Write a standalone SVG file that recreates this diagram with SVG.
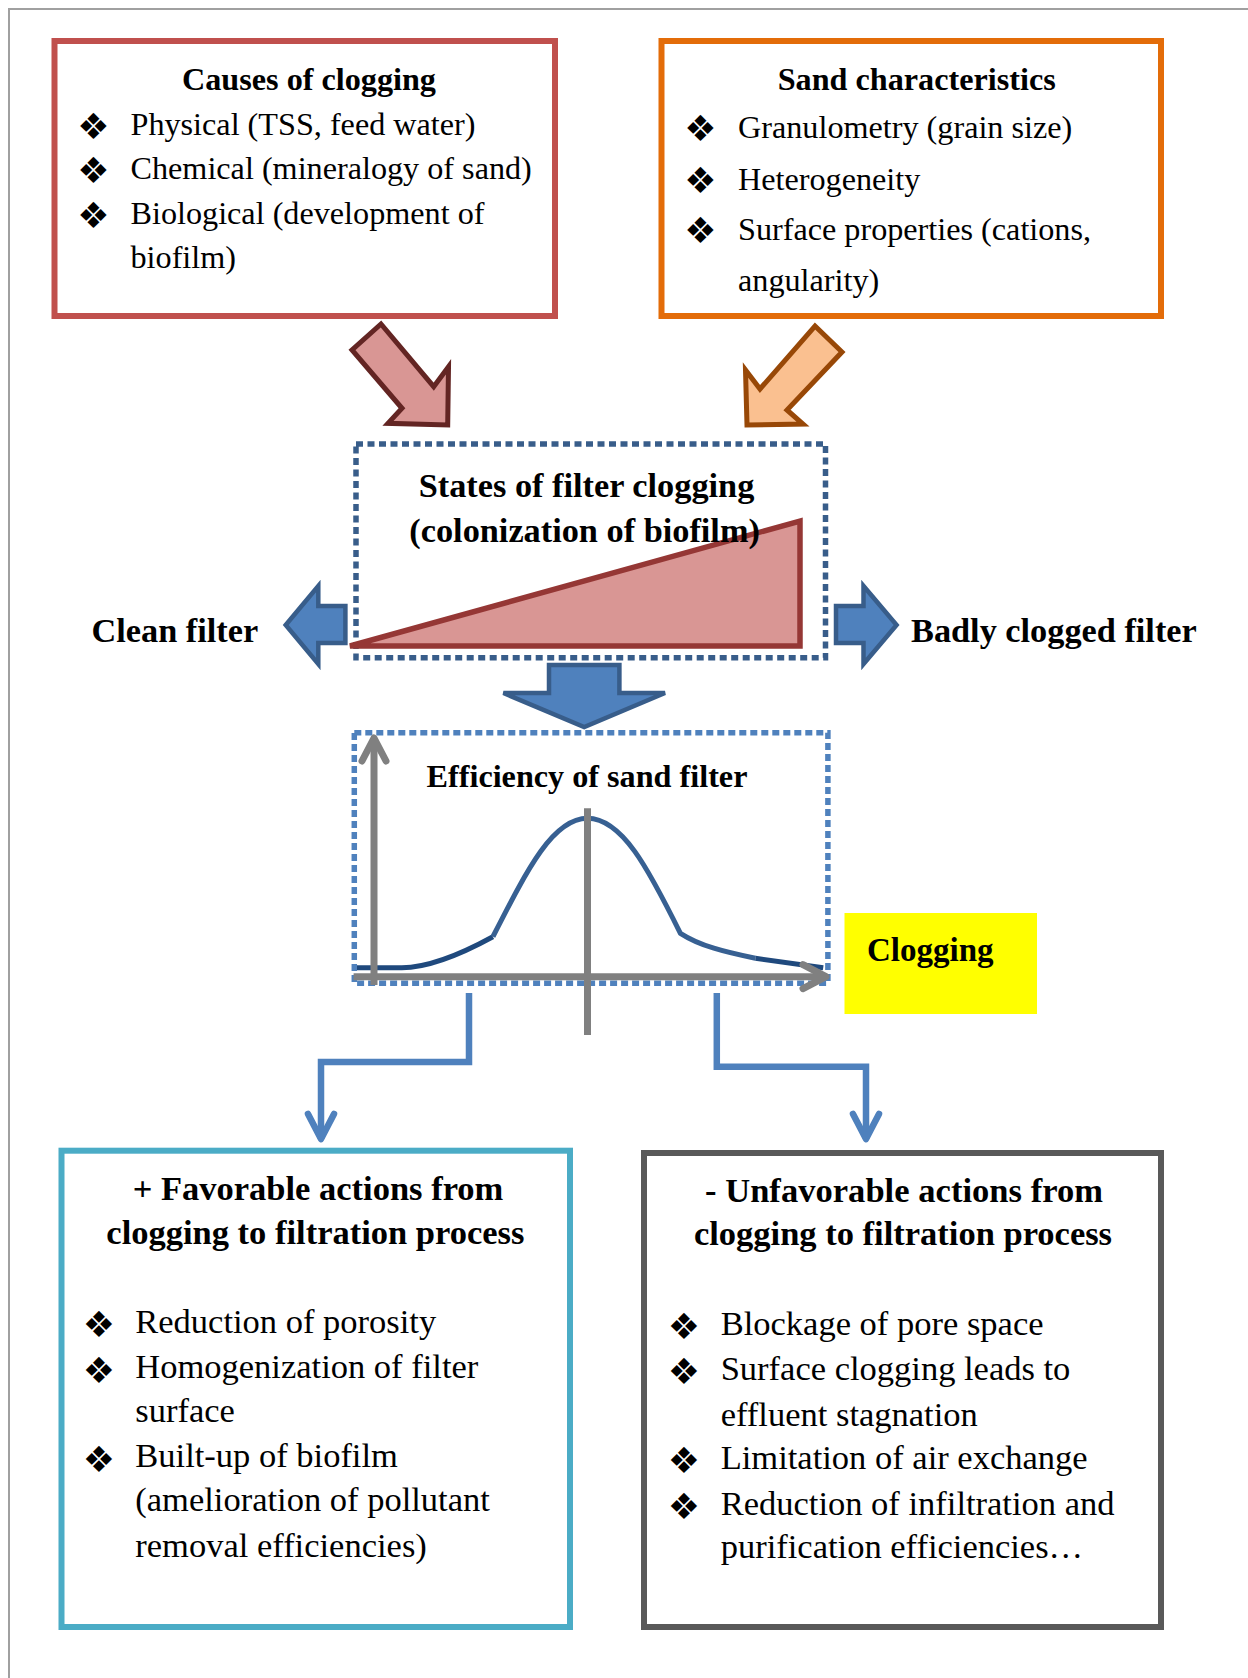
<svg xmlns="http://www.w3.org/2000/svg" width="1248" height="1678" viewBox="0 0 1248 1678">
<style>
text{font-family:"Liberation Serif","Times New Roman",serif;fill:#000}
.t32{font-size:32.2px}
.b32{font-size:32.2px;font-weight:bold}
.b34{font-size:34.3px;font-weight:bold}
.t345{font-size:34.5px}
.b345{font-size:34.5px;font-weight:bold}
.mid{text-anchor:middle}
.bul{font-family:"DejaVu Sans",sans-serif;font-size:36px;text-anchor:middle}
.blk{fill:#4F81BD;stroke:#385D8A;stroke-width:4.5;stroke-linejoin:miter}
.conn{fill:none;stroke:#4F81BD;stroke-width:6.5}
.axis{fill:none;stroke:#808080;stroke-width:7}
</style>
<defs>
<marker id="arrBlue" markerUnits="userSpaceOnUse" orient="auto" refX="0" refY="0" markerWidth="60" markerHeight="60" overflow="visible">
<path d="M-25,-13 L0,0 L-25,13" fill="none" stroke="#4F81BD" stroke-width="6.5" stroke-linecap="round" stroke-linejoin="round"/>
</marker>
<marker id="arrGray" markerUnits="userSpaceOnUse" orient="auto" refX="0" refY="0" markerWidth="60" markerHeight="60" overflow="visible">
<path d="M-23,-12 L0,0 L-23,12" fill="none" stroke="#808080" stroke-width="7" stroke-linecap="round" stroke-linejoin="round"/>
</marker>
</defs>
<rect width="1248" height="1678" fill="#fff"/>
<path d="M9 1678 V9 H1248" fill="none" stroke="#A0A0A0" stroke-width="2"/>

<g id="causes">
<rect x="54.5" y="41" width="500.5" height="275" fill="#fff" stroke="#C0504D" stroke-width="6"/>
<text class="b32 mid" x="309" y="90">Causes of clogging</text>
<text class="bul" x="93.5" y="139">❖</text>
<text class="bul" x="93.5" y="183">❖</text>
<text class="bul" x="93.5" y="228">❖</text>
<text class="t32" x="130.5" y="135">Physical (TSS, feed water)</text>
<text class="t32" x="130.5" y="179">Chemical (mineralogy of sand)</text>
<text class="t32" x="130.5" y="224">Biological (development of</text>
<text class="t32" x="130.5" y="268">biofilm)</text>
</g>

<g id="sand">
<rect x="661.5" y="41" width="499.5" height="275" fill="#fff" stroke="#E36C09" stroke-width="6"/>
<text class="b32 mid" x="916.7" y="90">Sand characteristics</text>
<text class="bul" x="700.5" y="141">❖</text>
<text class="bul" x="700.5" y="193">❖</text>
<text class="bul" x="700.5" y="243">❖</text>
<text class="t32" x="738" y="138">Granulometry (grain size)</text>
<text class="t32" x="738" y="190">Heterogeneity</text>
<text class="t32" x="738" y="240">Surface properties (cations,</text>
<text class="t32" x="738" y="291">angularity)</text>
</g>

<g id="arrow-causes">
<polygon points="381,324 433.7,386.7 448.5,366.7 447.7,425 388,423.3 402,408.3 352,350" fill="#D99694" stroke="#632523" stroke-width="5" stroke-linejoin="miter"/>
</g>
<g id="arrow-sand">
<polygon points="815,326 842,352 787,410 803,424 747,425 745.5,370 760,389" fill="#FAC090" stroke="#984807" stroke-width="5" stroke-linejoin="miter"/>
</g>

<g id="states">
<rect x="356" y="444" width="469.5" height="213.7" fill="none" stroke="#385D8A" stroke-width="5.5" stroke-dasharray="7 4.5"/>
<polygon points="350,646 800,521 800,646" fill="#D99694" stroke="#953735" stroke-width="5.5" stroke-linejoin="miter"/>
<text class="b34 mid" x="586.5" y="497">States of filter clogging</text>
<text class="b34 mid" x="584.6" y="542">(colonization of biofilm)</text>
</g>

<g id="clean">
<polygon class="blk" points="285.7,625 318.3,586 318.3,606 345.4,606 345.4,643 318.3,643 318.3,664"/>
<text class="b34" x="91.5" y="642">Clean filter</text>
</g>

<g id="badly">
<polygon class="blk" points="836,606 863.5,606 863.5,586 896.6,625 863.5,664 863.5,643 836,643"/>
<text class="b34" x="911" y="642">Badly clogged filter</text>
</g>

<g id="down-arrow">
<polygon class="blk" points="549,665 619.4,665 619.4,693 665,693 584.2,727 503.4,693 549,693"/>
</g>

<g id="efficiency">
<rect x="354.3" y="732.7" width="473.6" height="250.6" fill="none" stroke="#4F81BD" stroke-width="5.5" stroke-dasharray="7 4"/>
<text class="b32 mid" x="587" y="787">Efficiency of sand filter</text>
<path d="M357 967.7 H401.8 C432 967.5 465 952 492.9 936.7" fill="none" stroke="#1F497D" stroke-width="5"/>
<path d="M492.9 936.7 C528 868 553 818.5 587.5 818.3 C622 818.5 648 868 680.4 933.3 C700 946 725 952 755.4 958.3" fill="none" stroke="#376092" stroke-width="5"/>
<path d="M755.4 958.3 L823.2 967.7" fill="none" stroke="#1F497D" stroke-width="5"/>
<path class="axis" d="M587.5 808.3 V1035"/>
<path class="axis" d="M374 985 V738" marker-end="url(#arrGray)"/>
<path class="axis" d="M353.6 976.7 H826" marker-end="url(#arrGray)"/>
</g>

<g id="clogging">
<rect x="844.5" y="913" width="192.5" height="101" fill="#FFFF00"/>
<text class="b32" x="867" y="961" style="font-size:33px">Clogging</text>
</g>

<g id="connectors">
<path class="conn" d="M469 993 V1062 H321 V1139" marker-end="url(#arrBlue)"/>
<path class="conn" d="M716.8 993 V1066.7 H866 V1139" marker-end="url(#arrBlue)"/>
</g>

<g id="favorable">
<rect x="61.5" y="1150.7" width="508.5" height="476.3" fill="#fff" stroke="#4BACC6" stroke-width="6"/>
<text class="b345 mid" x="318" y="1200">+ Favorable actions from</text>
<text class="b345 mid" x="315.4" y="1243.6">clogging to filtration process</text>
<text class="bul" x="99" y="1337">❖</text>
<text class="bul" x="99" y="1382.5">❖</text>
<text class="bul" x="99" y="1471.6">❖</text>
<text class="t345" x="135.3" y="1332.8">Reduction of porosity</text>
<text class="t345" x="135.3" y="1378.3">Homogenization of filter</text>
<text class="t345" x="135.3" y="1422">surface</text>
<text class="t345" x="135.3" y="1467.4">Built-up of biofilm</text>
<text class="t345" x="135.3" y="1511">(amelioration of pollutant</text>
<text class="t345" x="135.3" y="1556.6">removal efficiencies)</text>
</g>

<g id="unfavorable">
<rect x="644" y="1153" width="517" height="474" fill="#fff" stroke="#595959" stroke-width="6"/>
<text class="b345 mid" x="904" y="1201.7" textLength="398" lengthAdjust="spacing">- Unfavorable actions from</text>
<text class="b345 mid" x="903" y="1245.4">clogging to filtration process</text>
<text class="bul" x="684" y="1338.7">❖</text>
<text class="bul" x="684" y="1384.2">❖</text>
<text class="bul" x="684" y="1473.2">❖</text>
<text class="bul" x="684" y="1518.8">❖</text>
<text class="t345" x="720.7" y="1334.5">Blockage of pore space</text>
<text class="t345" x="720.7" y="1380">Surface clogging leads to</text>
<text class="t345" x="720.7" y="1425.5">effluent stagnation</text>
<text class="t345" x="720.7" y="1469">Limitation of air exchange</text>
<text class="t345" x="720.7" y="1514.6">Reduction of infiltration and</text>
<text class="t345" x="720.7" y="1558.3">purification efficiencies…</text>
</g>
</svg>
